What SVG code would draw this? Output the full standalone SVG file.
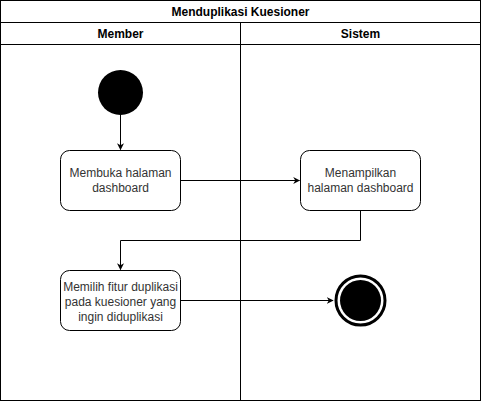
<svg xmlns="http://www.w3.org/2000/svg" width="481" height="401" viewBox="0 0 481 401">
<defs>
<style>
.ln{fill:none;stroke:#000;stroke-width:1}
.box{fill:#fff;stroke:#000;stroke-width:1}
.hd{font-family:"Liberation Sans",Arial,sans-serif;font-size:12px;font-weight:bold;fill:#000;text-anchor:middle}
.tx{font-family:"Liberation Sans",Arial,sans-serif;font-size:12px;fill:#333;text-anchor:middle}
</style>
<marker id="arr" viewBox="0 0 10 10" refX="9" refY="5" markerWidth="7" markerHeight="7" markerUnits="userSpaceOnUse" orient="auto">
<path d="M0,0 L10,5 L0,10 L3,5 Z" fill="#000"/>
</marker>
</defs>
<rect width="481" height="401" fill="#fff"/>
<g id="pool">
<rect x="0.5" y="0.5" width="480" height="400" class="ln"/>
<line x1="0.5" y1="22.5" x2="480.5" y2="22.5" class="ln"/>
<line x1="0.5" y1="44.5" x2="480.5" y2="44.5" class="ln"/>
<line x1="240.5" y1="22.5" x2="240.5" y2="400.5" class="ln"/>
<text x="240.5" y="16" class="hd">Menduplikasi Kuesioner</text>
<text x="120.5" y="38" class="hd">Member</text>
<text x="360.5" y="38" class="hd">Sistem</text>
</g>
<g id="connectors">
<line x1="120.5" y1="115" x2="120.5" y2="149.5" class="ln" marker-end="url(#arr)"/>
<line x1="180.5" y1="180.5" x2="299.5" y2="180.5" class="ln" marker-end="url(#arr)"/>
<polyline points="360.5,210.5 360.5,240.5 120.5,240.5 120.5,269.5" class="ln" marker-end="url(#arr)"/>
<line x1="180.5" y1="300.5" x2="333" y2="300.5" class="ln" marker-end="url(#arr)"/>
</g>
<g id="start">
<circle cx="120.5" cy="92.5" r="22.5" fill="#000"/>
</g>
<g id="n1">
<rect x="60.5" y="150.5" width="120" height="60" rx="9" class="box"/>
<text x="120.5" y="177" class="tx">Membuka halaman</text>
<text x="120.5" y="192" class="tx">dashboard</text>
</g>
<g id="n2">
<rect x="300.5" y="150.5" width="120" height="60" rx="9" class="box"/>
<text x="360.5" y="177" class="tx">Menampilkan</text>
<text x="360.5" y="192" class="tx">halaman dashboard</text>
</g>
<g id="n3">
<rect x="60.5" y="270.5" width="120" height="60" rx="9" class="box"/>
<text x="120.5" y="291" class="tx">Memilih fitur duplikasi</text>
<text x="120.5" y="306" class="tx">pada kuesioner yang</text>
<text x="120.5" y="321" class="tx">ingin diduplikasi</text>
</g>
<g id="end">
<circle cx="360.5" cy="300.5" r="24.5" fill="#fff" stroke="#000" stroke-width="3"/>
<circle cx="360.5" cy="300.5" r="20.5" fill="#000"/>
</g>
</svg>
